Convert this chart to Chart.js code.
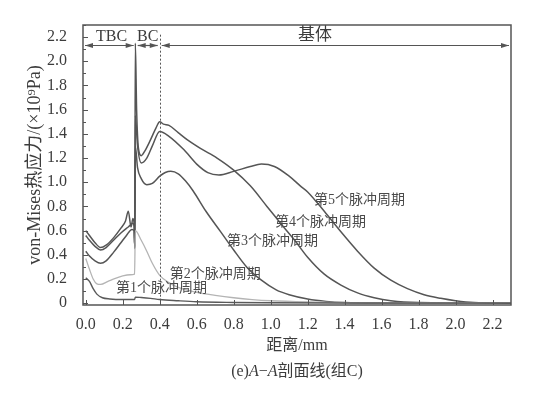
<!DOCTYPE html>
<html>
<head>
<meta charset="utf-8">
<script src="https://cdn.jsdelivr.net/npm/chart.js@4.4.1/dist/chart.umd.min.js"></script>
<style>
  html, body { margin: 0; padding: 0; background: #fff; }
  #wrap { width: 554px; height: 393px; }
</style>
</head>
<body>
<div id="wrap"><canvas id="stressChart" width="554" height="393"></canvas></div>
<script>
// tick values
const xTicks = [0, 0.2, 0.4, 0.6, 0.8, 1.0, 1.2, 1.4, 1.6, 1.8, 2.0, 2.2];
const yTicks = [0, 0.2, 0.4, 0.6, 0.8, 1.0, 1.2, 1.4, 1.6, 1.8, 2.0, 2.2];

// [distance mm, stress x10^9 Pa]
const cycle1 = [[0,0.21],[0.02,0.18],[0.04,0.12],[0.06,0.075],[0.09,0.045],[0.13,0.035],[0.2,0.03],[0.264,0.03],
  [0.268,0.05],[0.3,0.047],[0.35,0.04],[0.4,0.03],[0.5,0.02],[0.6,0.012],[0.8,0.006],[1.0,0.003],[1.4,0.001],[2.3,0]];
const cycle2 = [[0,0.37],[0.02,0.28],[0.04,0.2],[0.06,0.16],[0.08,0.155],[0.12,0.18],[0.16,0.205],[0.2,0.225],[0.24,0.235],[0.264,0.24],
  [0.268,0.6],[0.3,0.52],[0.33,0.43],[0.36,0.33],[0.4,0.23],[0.45,0.17],[0.5,0.13],[0.6,0.09],[0.7,0.065],[0.8,0.045],
  [0.9,0.03],[1.0,0.02],[1.2,0.01],[1.4,0.005],[1.6,0.002],[2.3,0]];
const cycle3 = [[0,0.43],[0.02,0.39],[0.05,0.35],[0.08,0.33],[0.11,0.35],[0.15,0.42],[0.19,0.5],[0.22,0.56],[0.25,0.61],[0.262,0.6],
  [0.265,0.47],[0.268,1.3],[0.28,1.12],[0.3,1.03],[0.33,0.98],[0.36,0.99],[0.4,1.05],[0.43,1.08],[0.46,1.09],[0.5,1.07],
  [0.54,1.01],[0.58,0.93],[0.65,0.76],[0.73,0.59],[0.8,0.44],[0.87,0.3],[0.95,0.19],[1.03,0.11],[1.1,0.07],[1.2,0.035],
  [1.3,0.015],[1.4,0.005],[1.6,0.001],[2.3,0]];
const cycle4 = [[0,0.56],[0.02,0.52],[0.05,0.47],[0.08,0.44],[0.11,0.46],[0.15,0.52],[0.19,0.58],[0.23,0.63],[0.255,0.66],[0.262,0.63],
  [0.265,0.46],[0.268,2.15],[0.275,1.6],[0.285,1.28],[0.3,1.22],[0.32,1.26],[0.35,1.35],[0.38,1.45],[0.4,1.5],[0.42,1.48],
  [0.45,1.47],[0.5,1.41],[0.55,1.35],[0.62,1.28],[0.71,1.2],[0.8,1.1],[0.89,0.97],[0.98,0.8],[1.07,0.63],[1.13,0.52],
  [1.2,0.38],[1.29,0.24],[1.38,0.15],[1.47,0.085],[1.56,0.045],[1.65,0.02],[1.8,0.005],[2.3,0]];
const cycle5 = [[0,0.6],[0.02,0.56],[0.05,0.5],[0.08,0.46],[0.11,0.48],[0.15,0.54],[0.19,0.62],[0.215,0.68],[0.23,0.76],[0.245,0.63],
  [0.255,0.7],[0.262,0.64],[0.265,0.45],[0.268,1.55],[0.28,1.3],[0.3,1.16],[0.33,1.2],[0.36,1.3],[0.4,1.42],[0.45,1.38],
  [0.53,1.27],[0.6,1.15],[0.66,1.08],[0.72,1.06],[0.8,1.09],[0.89,1.13],[0.95,1.15],[1.02,1.13],[1.1,1.05],[1.16,0.97],
  [1.2,0.92],[1.29,0.76],[1.38,0.59],[1.47,0.43],[1.56,0.29],[1.65,0.19],[1.74,0.12],[1.83,0.07],[1.92,0.04],[2.0,0.02],
  [2.1,0.005],[2.3,0]];

const cycleNames = ['第1个脉冲周期', '第2个脉冲周期', '第3个脉冲周期', '第4个脉冲周期', '第5个脉冲周期'];
const labelX = [0.41, 0.70, 1.01, 1.27, 1.48];
const labelY = [0.12, 0.24, 0.51, 0.67, 0.85];

// zones along the section line
const zoneNames = ['TBC', 'BC', '基体'];
const zoneBounds = [-0.015, 0.27, 0.4, 2.3];
const zoneLabelX = [0.14, 0.335, 1.24];

const SERIF = "'Liberation Serif', 'Noto Sans CJK SC', serif";
const INK = '#3c3c3c';
const LINE = '#555';

function arrowHead(ctx, x, y, dir) {
  ctx.beginPath();
  ctx.moveTo(x, y);
  ctx.lineTo(x - dir * 8, y - 2.6);
  ctx.lineTo(x - dir * 8, y + 2.6);
  ctx.closePath();
  ctx.fill();
}

const decor = {
  id: 'decor',
  afterDraw(chart) {
    const { ctx, chartArea: a, scales: { x, y } } = chart;
    ctx.save();
    ctx.strokeStyle = LINE;
    ctx.fillStyle = LINE;

    // frame
    ctx.lineWidth = 1.5;
    ctx.strokeRect(a.left, a.top, a.right - a.left, a.bottom - a.top);

    // inward ticks
    ctx.lineWidth = 1;
    ctx.beginPath();
    yTicks.forEach(v => {
      const py = Math.round(y.getPixelForValue(v)) + 0.5;
      ctx.moveTo(a.left, py); ctx.lineTo(a.left + 5, py);
      const pm = Math.round(y.getPixelForValue(v + 0.1)) + 0.5;
      if (pm > a.top) { ctx.moveTo(a.left, pm); ctx.lineTo(a.left + 3, pm); }
    });
    xTicks.forEach(v => {
      const px = Math.round(x.getPixelForValue(v)) + 0.5;
      ctx.moveTo(px, a.bottom); ctx.lineTo(px, a.bottom - 5);
    });
    ctx.stroke();

    // dotted boundary at the BC / substrate interface
    ctx.setLineDash([2, 2]);
    ctx.beginPath();
    const dx = Math.round(x.getPixelForValue(zoneBounds[2])) + 0.5;
    ctx.moveTo(dx, y.getPixelForValue(2.22));
    ctx.lineTo(dx, a.bottom);
    ctx.stroke();
    ctx.setLineDash([]);

    // zone arrows
    const ay = Math.round(y.getPixelForValue(2.135)) + 0.5;
    ctx.lineWidth = 1.2;
    for (let i = 0; i < zoneNames.length; i++) {
      const x0 = x.getPixelForValue(zoneBounds[i]) + 2;
      const x1 = x.getPixelForValue(zoneBounds[i + 1]) - 2;
      ctx.beginPath();
      ctx.moveTo(x0, ay); ctx.lineTo(x1, ay);
      ctx.stroke();
      arrowHead(ctx, x0, ay, -1);
      arrowHead(ctx, x1, ay, 1);
    }

    ctx.fillStyle = INK;
    ctx.textAlign = 'center';
    ctx.textBaseline = 'middle';
    ctx.font = '16px ' + SERIF;
    ctx.fillText(zoneNames[0], x.getPixelForValue(zoneLabelX[0]), y.getPixelForValue(2.2));
    ctx.fillText(zoneNames[1], x.getPixelForValue(zoneLabelX[1]), y.getPixelForValue(2.2));
    ctx.font = '17px ' + SERIF;
    ctx.fillText(zoneNames[2], x.getPixelForValue(zoneLabelX[2]), y.getPixelForValue(2.21));

    // curve labels
    ctx.font = '14px ' + SERIF;
    ctx.fillStyle = '#4a4a4a';
    cycleNames.forEach((name, i) => {
      ctx.fillText(name, x.getPixelForValue(labelX[i]), y.getPixelForValue(labelY[i]));
    });

    // caption: (e)A−A剖面线(组C)
    const parts = [
      ['(e)', '16px ' + SERIF],
      ['A', 'italic 16px ' + SERIF],
      ['−', '16px ' + SERIF],
      ['A', 'italic 16px ' + SERIF],
      ['剖面线(组C)', '16px ' + SERIF]
    ];
    let total = 0;
    parts.forEach(p => { ctx.font = p[1]; total += ctx.measureText(p[0]).width; });
    let cx = (a.left + a.right) / 2 - total / 2;
    ctx.textAlign = 'left';
    ctx.fillStyle = INK;
    parts.forEach(p => {
      ctx.font = p[1];
      ctx.fillText(p[0], cx, 372);
      cx += ctx.measureText(p[0]).width;
    });
    ctx.restore();
  }
};

function series(points, color, width) {
  return {
    data: points.map(p => ({ x: p[0], y: p[1] })),
    borderColor: color,
    borderWidth: width,
    pointRadius: 0,
    cubicInterpolationMode: 'monotone',
    fill: false
  };
}

const ctx = document.getElementById('stressChart').getContext('2d');
const stressChart = new Chart(ctx, {
  type: 'line',
  data: {
    datasets: [
      series(cycle1, '#5a5a5a', 1.4),
      series(cycle2, '#b4b4b4', 1.3),
      series(cycle3, '#555', 1.5),
      series(cycle4, '#555', 1.5),
      series(cycle5, '#555', 1.5)
    ]
  },
  options: {
    responsive: false,
    devicePixelRatio: 1,
    animation: false,
    layout: { padding: { left: 0, top: 25, right: 43, bottom: 0 } },
    plugins: { legend: { display: false }, tooltip: { enabled: false } },
    scales: {
      x: {
        type: 'linear',
        min: zoneBounds[0],
        max: zoneBounds[3],
        afterBuildTicks: s => { s.ticks = xTicks.map(v => ({ value: v })); },
        afterFit: s => { s.height = 88; },
        grid: { display: false },
        border: { display: false },
        ticks: {
          padding: 2,
          color: INK,
          font: { family: SERIF, size: 16 },
          maxRotation: 0,
          callback: v => v.toFixed(1)
        },
        title: {
          display: true,
          text: '距离/mm',
          color: INK,
          font: { family: SERIF, size: 16 },
          padding: { top: 0, bottom: 38 }
        }
      },
      y: {
        type: 'linear',
        min: -0.015,
        max: 2.3,
        afterBuildTicks: s => { s.ticks = yTicks.map(v => ({ value: v })); },
        afterFit: s => { s.width = 83; },
        grid: { display: false },
        border: { display: false },
        ticks: {
          padding: 8,
          color: INK,
          font: { family: SERIF, size: 16 },
          callback: v => v === 0 ? '0' : v.toFixed(1)
        },
        title: {
          display: true,
          text: 'von-Mises热应力/(×10⁹Pa)',
          color: INK,
          font: { family: SERIF, size: 18 },
          padding: { top: 24, bottom: 0 }
        }
      }
    }
  },
  plugins: [decor]
});
</script>
</body>
</html>
